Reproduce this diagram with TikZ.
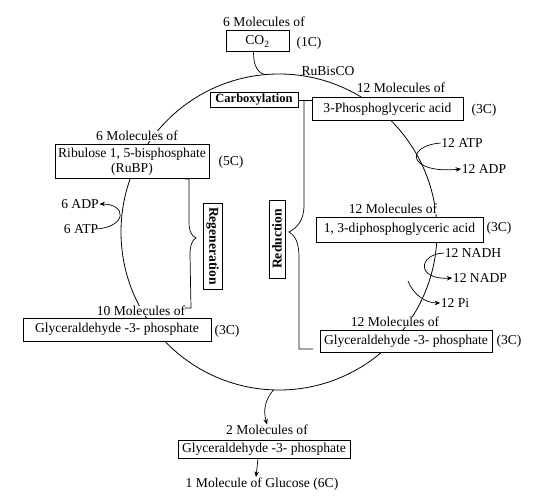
\documentclass[tikz,border=0pt]{standalone}
\usepackage{fontspec}
\setmainfont{Liberation Serif}
\usetikzlibrary{arrows.meta}
\newcommand\mfs{\fontsize{13.6}{14.5}\selectfont}
\newcommand\bfs{\fontsize{13.6}{14.5}\selectfont\bfseries}
\begin{document}
\begin{tikzpicture}[x=1pt,y=-1pt,
  box/.style={draw, line width=1pt, fill=white, inner sep=0pt, font=\mfs, align=center},
  bbox/.style={draw, line width=1pt, fill=white, inner sep=0pt, font=\bfs},
  lbl/.style={inner sep=0.5pt, fill=white, font=\mfs},
  txt/.style={inner sep=0.5pt, font=\mfs},
  ln/.style={line width=0.7pt},
  arr/.style={line width=0.7pt, -{Stealth[length=5.5pt,width=4.5pt]}}]
\useasboundingbox (0,0) rectangle (537,497);
\fill[white] (0,0) rectangle (537,497);
% cycle
\node[circle, draw, line width=0.8pt, minimum size=316pt, inner sep=0pt, outer sep=0pt] (cyc) at (279,232) {};
% boxes
\node[box, minimum width=63pt, minimum height=21pt] (co2) at (257.5,41.5) {CO\textsubscript{2}};
\node[box, minimum width=151pt, minimum height=23pt] (pga) at (387.5,109.5) {3-Phosphoglyceric acid};
\node[bbox, minimum width=88pt, minimum height=15pt, font=\fontsize{12.5}{13}\selectfont\bfseries] (carb) at (254,100) {Carboxylation};
\node[box, minimum width=154pt, minimum height=33pt] (rubp) at (132,161.5) {Ribulose 1, 5-bisphosphate\\(RuBP)};
\node[box, minimum width=167pt, minimum height=25pt] (dpga) at (399.5,229.5) {1, 3-diphosphoglyceric acid};
\node[box, minimum width=172pt, minimum height=22pt] (gR) at (406,341) {Glyceraldehyde -3- phosphate};
\node[box, minimum width=188pt, minimum height=23pt] (gL) at (117,329.5) {Glyceraldehyde -3- phosphate};
\node[box, minimum width=172pt, minimum height=18pt] (gB) at (264,449) {Glyceraldehyde -3- phosphate};
\node[bbox, rotate=-90, minimum width=86pt, minimum height=19pt] (regen) at (212.5,246) {Regeneration};
\node[bbox, rotate=90, minimum width=78pt, minimum height=16pt] (reduc) at (277,239) {Reduction};
% labels
\node[lbl] (l1) at (264,22) {6 Molecules of};
\node[txt] (l2) at (309,43) {(1C)};
\node[txt] (l3) at (328,71) {RuBisCO};
\node[lbl] (l4) at (401,88) {12 Molecules of};
\node[txt] (l5) at (484,110) {(3C)};
\node[txt] (atp12) at (462,143) {12 ATP};
\node[txt] (adp12) at (484,169) {12 ADP};
\node[lbl] (l6) at (137,136) {6 Molecules of};
\node[txt] (l7) at (231,162) {(5C)};
\node[txt] (adp6) at (80,204) {6 ADP};
\node[txt] (atp6) at (81,229) {6 ATP};
\node[lbl] (l8) at (393,209) {12 Molecules of};
\node[txt] (l9) at (499,228) {(3C)};
\node[txt] (nadh) at (473,253) {12 NADH};
\node[txt] (nadp) at (480,278) {12 NADP};
\node[txt] (pi) at (455,303) {12 Pi};
\node[lbl] (l10) at (395,322) {12 Molecules of};
\node[txt] (l11) at (509,341) {(3C)};
\node[lbl] (l12) at (141,311) {10 Molecules of};
\node[txt] (l13) at (227,331) {(3C)};
\node[lbl] (l14) at (267,430) {2 Molecules of};
\node[txt] (l15) at (262,484) {1 Molecule of Glucose (6C)};
% connectors
\draw[ln] ([xshift=-4pt]co2.south) .. controls ([xshift=-4pt,yshift=-14pt]co2.south) and (258,73) .. (cyc.95.5);
\draw[ln] (carb.east) -- (carb.east -| pga.west);
\draw[ln] (304,100) -- (304,205) .. controls (304,222) and (296,228) .. (289,232)
  .. controls (296,236) and (299,244) .. (299,258) -- (299,349) -- (313,349);
\draw[ln] (185,179) -- (189,179) -- (189,222) .. controls (189,232) and (192,236) .. (196,238)
  .. controls (192,240) and (190,246) .. (190,255) -- (191,308) -- (185,308);
\draw[arr] (atp12.west) .. controls (404,146) and (408,174) .. (adp12.west);
\draw[arr] (nadh.west) .. controls (418,254) and (416,280) .. (nadp.west);
\draw[arr] (408,281) .. controls (413,294) and (425,303) .. (pi.west);
\draw[arr] ([xshift=-2pt]atp6.east) .. controls (128,226) and (126,204) .. (adp6.east);
\draw[arr] (cyc.268) .. controls (265,400) and (263,410) .. (l14.north);
\draw[arr] ([xshift=-6pt]gB.south) -- ([xshift=-6pt]l15.north);
\end{tikzpicture}
\end{document}
